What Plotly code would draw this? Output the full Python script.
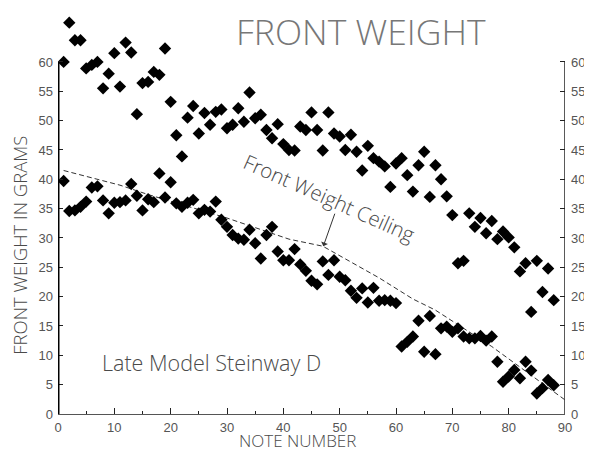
import plotly.graph_objects as go

notes = list(range(1, 89))

upper_weight = [
    60.0, 66.7, 63.7, 63.7, 58.9, 59.5, 60.0, 55.5, 58.0, 61.5,
    55.8, 63.3, 61.6, 51.1, 56.4, 56.6, 58.3, 57.8, 62.3, 53.2,
    47.5, 43.9, 50.5, 52.5, 47.8, 51.3, 49.3, 51.5, 51.9, 48.7,
    49.3, 52.1, 49.8, 54.8, 50.4, 51.0, 48.4, 47.0, 49.4, 46.0,
    45.0, 44.9, 49.0, 48.4, 51.4, 48.4, 44.9, 51.4, 47.8, 47.3,
    45.0, 47.6, 44.7, 41.5, 45.7, 43.6, 43.0, 42.2, 38.7, 42.7,
    43.6, 40.7, 37.9, 42.4, 44.7, 37.0, 42.4, 40.0, 37.1, 33.9,
    25.7, 26.1, 34.2, 31.9, 33.4, 30.8, 32.9, 29.8, 31.1, 30.1,
    28.4, 24.3, 25.7, 17.4, 26.1, 20.8, 24.8, 19.4,
]

lower_weight = [
    39.7, 34.6, 34.7, 35.3, 36.2, 38.6, 38.8, 36.4, 34.2, 36.0,
    36.1, 36.4, 39.2, 37.2, 34.7, 36.6, 36.1, 41.0, 36.9, 39.5,
    35.9, 35.3, 36.0, 36.5, 34.2, 34.8, 34.5, 36.2, 33.1, 31.9,
    30.5, 29.9, 29.7, 31.4, 29.1, 26.5, 30.5, 31.9, 27.7, 26.2,
    26.2, 28.1, 25.5, 24.4, 22.7, 22.1, 26.0, 23.7, 26.2, 23.4,
    22.8, 21.0, 19.8, 21.4, 19.0, 21.5, 19.3, 19.4, 19.3, 18.9,
    11.5, 12.3, 13.2, 15.9, 10.6, 16.7, 10.2, 14.6, 14.9, 14.0,
    14.6, 13.2, 12.9, 12.9, 13.3, 12.5, 13.2, 8.9, 5.5, 6.4,
    7.5, 6.1, 8.9, 7.4, 3.5, 4.4, 5.8, 4.9,
]

ceiling_x = [1, 11, 16, 30, 41, 47, 57, 63, 67, 77, 90]
ceiling_y = [41.5, 39.0, 37.4, 33.4, 29.8, 28.6, 23.2, 19.6, 17.7, 11.5, 2.4]

y_ticks = list(range(0, 61, 5))
x_ticks = list(range(0, 91, 10))

TXT = "#4a4a4a"
FONT = "Open Sans"

fig = go.Figure()
fig.add_trace(go.Scatter(x=ceiling_x, y=ceiling_y, mode="lines",
                         line=dict(color="#333333", width=1, dash="5px,3px"),
                         hoverinfo="skip", showlegend=False))
fig.add_trace(go.Scatter(x=notes, y=upper_weight, mode="markers",
                         marker=dict(symbol="diamond", size=9.5, color="black"),
                         showlegend=False))
fig.add_trace(go.Scatter(x=notes, y=lower_weight, mode="markers",
                         marker=dict(symbol="diamond", size=9.5, color="black"),
                         showlegend=False))
# invisible trace so the right axis renders
fig.add_trace(go.Scatter(x=[0], y=[0], yaxis="y2", mode="markers",
                         marker=dict(opacity=0), hoverinfo="skip", showlegend=False))

tickfont = dict(size=13, color="#555", family="Liberation Sans")

# page has an 8px body margin, so the figure is 8px smaller and margins shifted
fig.update_layout(
    template="none",
    width=584, height=444,
    margin=dict(l=50, r=27, t=7, b=38, autoexpand=False),
    paper_bgcolor="white", plot_bgcolor="white",
    font=dict(family=FONT, color=TXT),
    xaxis=dict(range=[0, 90], tickvals=x_ticks, ticks="inside", ticklen=6,
               tickcolor="#222", tickwidth=1, showgrid=False, zeroline=False,
               showline=True, linecolor="#555", linewidth=1, automargin=False,
               minor=dict(ticks="inside", dtick=5, tick0=0, ticklen=3, tickcolor="#222"),
               tickfont=tickfont, ticklabelstandoff=1),
    yaxis=dict(range=[0, 68], tickvals=y_ticks, ticks="inside", ticklen=5,
               tickcolor="#222", showgrid=False, zeroline=False, showline=False,
               automargin=False, tickfont=tickfont, ticklabelstandoff=4),
    yaxis2=dict(range=[0, 68], tickvals=y_ticks, ticks="inside", ticklen=5,
                tickcolor="#222", overlaying="y", side="right", showgrid=False,
                zeroline=False, showline=False, automargin=False,
                tickfont=tickfont, ticklabelstandoff=5),
)

# axis spines limited to 0..60
fig.add_shape(type="line", xref="x", yref="y", x0=0, x1=0, y0=0, y1=60,
              line=dict(color="black", width=3))
fig.add_shape(type="line", xref="x", yref="y", x0=90, x1=90, y0=0, y1=60,
              line=dict(color="#222", width=1.5))

fig.add_annotation(text="FRONT WEIGHT", xref="paper", yref="paper", x=0.598, y=0.96,
                   xanchor="center", yanchor="middle", showarrow=False, height=36,
                   font=dict(size=35.5, color="#777", family=FONT, weight=300))
fig.add_annotation(text="FRONT WEIGHT IN GRAMS", xref="paper", yref="paper",
                   x=-0.075, y=0.424, xanchor="center", yanchor="middle",
                   textangle=-90, showarrow=False,
                   font=dict(size=18.5, color=TXT, family=FONT, weight=300))
fig.add_annotation(text="NOTE NUMBER", xref="paper", yref="paper", x=0.473, y=-0.0665,
                   xanchor="center", yanchor="middle", showarrow=False,
                   font=dict(size=17, color=TXT, family=FONT, weight=300))
fig.add_annotation(text="Late Model Steinway D", xref="paper", yref="paper",
                   x=0.083, y=0.128, xanchor="left", yanchor="middle", showarrow=False,
                   font=dict(size=21.5, color=TXT, family=FONT, weight=300))
fig.add_annotation(text="Front Weight Ceiling", xref="paper", yref="paper",
                   x=0.536, y=0.541, xanchor="center", yanchor="middle",
                   textangle=24, showarrow=False,
                   font=dict(size=20.5, color=TXT, family=FONT, weight=300))
fig.add_annotation(text="", x=47.1, y=28.6, xref="x", yref="y", ax=12, ay=-34,
                   showarrow=True, arrowhead=1, arrowsize=1.2, arrowwidth=1,
                   arrowcolor="#333", standoff=0)

fig.write_html("out.html")
